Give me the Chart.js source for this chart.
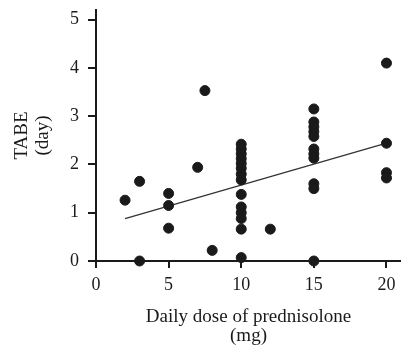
<!DOCTYPE html>
<html>
<head>
<meta charset="utf-8">
<script src="https://cdn.jsdelivr.net/npm/chart.js@4/dist/chart.umd.min.js"></script>
<style>
    html, body { margin: 0; padding: 0; background: #fff; }
    #wrap { width: 401px; height: 347px; }
</style>
</head>
<body>
<div id="wrap"><canvas id="myChart" width="401" height="347"></canvas></div>
<script>
// daily dose (mg) and TABE (day)
const doseMg = [2, 3, 3, 5, 5, 5, 7, 7.5, 8,
    10, 10, 10, 10, 10, 10, 10, 10, 10, 10, 10, 10, 10, 10,
    12,
    15, 15, 15, 15, 15, 15, 15, 15, 15, 15, 15,
    20, 20, 20, 20];
const tabeDay = [1.26, 1.65, 0, 1.4, 1.15, 0.68, 1.94, 3.53, 0.22,
    2.42, 2.32, 2.22, 2.12, 2.02, 1.92, 1.8, 1.68, 1.38, 1.12, 1.0, 0.88, 0.66, 0.07,
    0.66,
    3.15, 2.88, 2.78, 2.68, 2.58, 2.32, 2.22, 2.13, 1.6, 1.5, 0,
    4.1, 2.44, 1.83, 1.72];

// regression line end points
const fitX = [2, 20];
const fitY = [0.88, 2.44];

const xTicks = [0, 5, 10, 15, 20];
const yTicks = [0, 1, 2, 3, 4, 5];

const ink = '#1a1a1a';
const serif = '"Liberation Serif", "DejaVu Serif", serif';

const points = doseMg.map((d, i) => ({ x: d, y: tabeDay[i] }));
const fitLine = fitX.map((d, i) => ({ x: d, y: fitY[i] }));

const ctx = document.getElementById('myChart').getContext('2d');

const myChart = new Chart(ctx, {
    type: 'scatter',
    data: {
        datasets: [{
            label: 'TABE',
            data: points,
            backgroundColor: ink,
            borderColor: ink,
            pointRadius: 5,
            pointHoverRadius: 5,
            clip: false
        }, {
            label: 'fit',
            type: 'line',
            data: fitLine,
            borderColor: '#333',
            borderWidth: 1.3,
            pointRadius: 0,
            fill: false
        }]
    },
    options: {
        responsive: false,
        animation: false,
        layout: {
            autoPadding: false,
            padding: { top: 10, right: 0, left: 0, bottom: 0 }
        },
        plugins: {
            legend: { display: false },
            tooltip: { enabled: false }
        },
        scales: {
            x: {
                type: 'linear',
                min: 0,
                max: 21,
                afterFit: (scale) => {
                    scale.height = 86;
                    scale.paddingLeft = 0;
                    scale.paddingRight = 0;
                },
                afterBuildTicks: (scale) => { scale.ticks = xTicks.map(v => ({ value: v })); },
                border: { color: ink, width: 2 },
                grid: {
                    drawOnChartArea: false,
                    drawTicks: true,
                    tickLength: 7,
                    color: ink,
                    lineWidth: 2
                },
                ticks: {
                    color: ink,
                    padding: 6,
                    maxRotation: 0,
                    font: { family: serif, size: 18 }
                },
                title: {
                    display: true,
                    text: ['Daily dose of prednisolone', '(mg)'],
                    color: ink,
                    font: { family: serif, size: 19, lineHeight: 1.0 },
                    padding: { top: 6, bottom: 1 }
                }
            },
            y: {
                type: 'linear',
                min: 0,
                max: 5.2,
                afterFit: (scale) => {
                    scale.width = 96;
                    scale.paddingTop = 0;
                    scale.paddingBottom = 0;
                },
                afterBuildTicks: (scale) => { scale.ticks = yTicks.map(v => ({ value: v })); },
                border: { color: ink, width: 2 },
                grid: {
                    drawOnChartArea: false,
                    drawTicks: true,
                    tickLength: 8,
                    color: ink,
                    lineWidth: 2
                },
                ticks: {
                    color: ink,
                    padding: 9,
                    font: { family: serif, size: 18 }
                },
                title: {
                    display: true,
                    text: ['TABE', '(day)'],
                    color: ink,
                    font: { family: serif, size: 19, lineHeight: 1.1 },
                    padding: { top: 12, bottom: 0 }
                }
            }
        }
    }
});
</script>
</body>
</html>
